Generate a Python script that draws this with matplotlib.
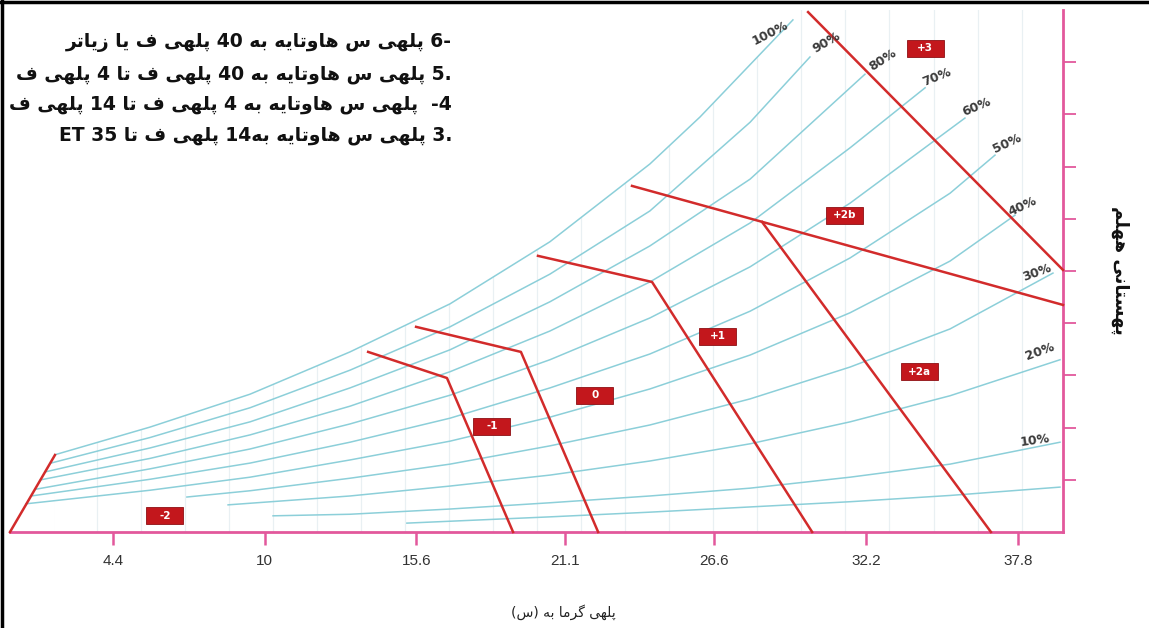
import re
import matplotlib.pyplot as plt
from matplotlib.patches import Rectangle, Polygon
from matplotlib.lines import Line2D
import numpy as np

plt.rcParams['font.family'] = ['DejaVu Sans']

# x axis: dry bulb temperature (C)
temp_ticks = [4.4, 10, 15.6, 21.1, 26.6, 32.2, 37.8]
temp_labels = ['4.4', '10', '15.6', '21.1', '26.6', '32.2', '37.8']

# relative humidity curves (temperature, vapour units)
rh100_t = [2.26, 5.77, 9.46, 13.15, 16.84, 20.53, 24.22, 26.07, 29.50]
rh100_y = [1.48, 2.01, 2.64, 3.45, 4.37, 5.56, 7.05, 7.95, 9.81]
rh90_t = [2.11, 5.77, 9.46, 13.15, 16.84, 20.53, 24.22, 27.92, 30.13]
rh90_y = [1.32, 1.81, 2.38, 3.10, 3.93, 4.94, 6.15, 7.85, 9.10]
rh80_t = [1.89, 5.77, 9.46, 13.15, 16.84, 20.53, 24.22, 27.92, 32.16]
rh80_y = [1.15, 1.61, 2.11, 2.76, 3.49, 4.41, 5.48, 6.76, 8.77]
rh70_t = [1.74, 5.77, 9.46, 13.15, 16.84, 20.53, 24.22, 27.92, 31.61, 34.38]
rh70_y = [1.00, 1.41, 1.86, 2.41, 3.07, 3.85, 4.79, 5.92, 7.36, 8.51]
rh60_t = [1.56, 5.77, 9.46, 13.15, 16.84, 20.53, 24.22, 27.92, 31.61, 35.85]
rh60_y = [0.82, 1.21, 1.59, 2.07, 2.62, 3.30, 4.10, 5.08, 6.30, 7.93]
rh50_t = [1.38, 5.77, 9.46, 13.15, 16.84, 20.53, 24.22, 27.92, 31.61, 35.30, 36.96]
rh50_y = [0.69, 1.01, 1.32, 1.72, 2.18, 2.76, 3.41, 4.23, 5.25, 6.49, 7.22]
rh40_t = [1.19, 5.77, 9.46, 13.15, 16.84, 20.53, 24.22, 27.92, 31.61, 35.30, 37.70]
rh40_y = [0.54, 0.80, 1.05, 1.38, 1.74, 2.20, 2.74, 3.39, 4.20, 5.19, 6.07]
rh30_t = [7.13, 9.46, 13.15, 16.84, 20.53, 24.22, 27.92, 31.61, 35.30, 39.10]
rh30_y = [0.67, 0.79, 1.03, 1.30, 1.65, 2.05, 2.55, 3.16, 3.89, 4.96]
rh20_t = [8.65, 13.15, 16.84, 20.53, 24.22, 27.92, 31.61, 35.30, 39.36]
rh20_y = [0.52, 0.69, 0.88, 1.09, 1.36, 1.69, 2.11, 2.61, 3.30]
rh10_t = [10.31, 13.15, 16.84, 20.53, 24.22, 27.92, 31.61, 35.30, 39.36]
rh10_y = [0.31, 0.34, 0.44, 0.56, 0.69, 0.84, 1.05, 1.30, 1.72]
rh5_t = [15.25, 20.53, 24.22, 27.92, 31.61, 35.30, 39.36]
rh5_y = [0.17, 0.29, 0.38, 0.48, 0.58, 0.70, 0.86]

pct_labels = ['100%', '90%', '80%', '70%', '60%', '50%', '40%', '30%', '20%', '10%']
pct_t = [28.65, 30.76, 32.83, 34.82, 36.30, 37.40, 37.99, 38.51, 38.62, 38.44]
pct_y = [9.56, 9.37, 9.04, 8.72, 8.14, 7.45, 6.23, 4.96, 3.45, 1.76]
pct_rot = [27, 30, 33, 22, 23, 25, 25, 20, 20, 8]

# comfort zone boundaries
zone_m2_t = [0.6, 2.26]
zone_m2_y = [0.0, 1.475]
zone_m1_t = [13.82, 16.73, 19.17]
zone_m1_y = [3.45, 2.95, 0.0]
zone_0_t = [15.59, 19.46, 22.31]
zone_0_y = [3.93, 3.45, 0.0]
zone_p1_t = [20.09, 24.30, 30.21]
zone_p1_y = [5.29, 4.79, 0.0]
zone_p2b_t = [23.56, 39.47]
zone_p2b_y = [6.63, 4.35]
zone_p2a_t = [28.36, 36.81]
zone_p2a_y = [5.94, 0.0]
zone_p3_t = [30.06, 39.47]
zone_p3_y = [9.96, 5.02]

zone_names = ['+3', '+2b', '+1', '+2a', '0', '-1', '-2']
zone_t = [34.38, 31.42, 26.73, 34.16, 22.19, 18.39, 6.32]
zone_y = [9.27, 6.07, 3.75, 3.07, 2.62, 2.03, 0.31]

notes = ['6- پلهی س هاوتایه به 40 پلهی ف یا زیاتر',
         '5. پلهی س هاوتایه به 40 پلهی ف تا 4 پلهی ف',
         '-4  پلهی س هاوتایه به 4 پلهی ف تا 14 پلهی ف',
         '3. پلهی س هاوتایه به14 پلهی ف تا 35 ET']
xlabel_txt = 'پلهی گرما به (س)'
ylabel_txt = 'پهستانی ههلم'

# --- minimal arabic shaping (isolated, final, initial, medial)
FORMS = {
    'ا': ('\uFE8D', '\uFE8E', None, None),
    'ب': ('\uFE8F', '\uFE90', '\uFE91', '\uFE92'),
    'پ': ('\uFB56', '\uFB57', '\uFB58', '\uFB59'),
    'ت': ('\uFE95', '\uFE96', '\uFE97', '\uFE98'),
    'ر': ('\uFEAD', '\uFEAE', None, None),
    'ز': ('\uFEAF', '\uFEB0', None, None),
    'س': ('\uFEB1', '\uFEB2', '\uFEB3', '\uFEB4'),
    'ف': ('\uFED1', '\uFED2', '\uFED3', '\uFED4'),
    'گ': ('\uFB92', '\uFB93', '\uFB94', '\uFB95'),
    'ل': ('\uFEDD', '\uFEDE', '\uFEDF', '\uFEE0'),
    'م': ('\uFEE1', '\uFEE2', '\uFEE3', '\uFEE4'),
    'ن': ('\uFEE5', '\uFEE6', '\uFEE7', '\uFEE8'),
    'و': ('\uFEED', '\uFEEE', None, None),
    'ه': ('\uFEE9', '\uFEEA', '\uFEEB', '\uFEEC'),
    'ی': ('\uFBFC', '\uFBFD', '\uFBFE', '\uFBFF'),
}


def shape(word):
    out = []
    n = len(word)
    for i, ch in enumerate(word):
        f = FORMS.get(ch)
        if f is None:
            out.append(ch)
            continue
        prev = i > 0 and word[i - 1] in FORMS and FORMS[word[i - 1]][2] is not None
        nxt = i < n - 1 and word[i + 1] in FORMS and f[2] is not None
        if prev and nxt:
            out.append(f[3])
        elif prev:
            out.append(f[1])
        elif nxt:
            out.append(f[2])
        else:
            out.append(f[0])
    return ''.join(reversed(out))


def rtl(line):
    vis = []
    for tok in reversed(line.split(' ')):
        runs = re.findall(r'[\u0600-\u06FF]+|[^\u0600-\u06FF]+', tok)
        if len(runs) > 1:
            parts = []
            for r in reversed(runs):
                if '\u0600' <= r[0] <= '\u06FF':
                    parts.append(shape(r))
                else:
                    parts.append(r.translate(str.maketrans('()', ')(')))
            vis.append(''.join(parts))
        elif runs and '\u0600' <= runs[0][0] <= '\u06FF':
            vis.append(shape(tok))
        else:
            vis.append(tok)
    return ' '.join(vis)


W, H = 1149, 628
fig = plt.figure(figsize=(W / 100, H / 100), dpi=100)
ax = fig.add_axes([10 / W, (H - 532) / H, (1063 - 10) / W, (532 - 10) / H])
ax.set_xlim(0.6, 39.47)
ax.set_ylim(0, 10)

pink = '#e2589c'
red = '#d22b2b'
cyan = '#8ccfd9'

# faint vertical grid under the saturation curve
clip = Polygon(list(zip(rh100_t, rh100_y)) + [(29.5, 10.5), (40, 10.5), (40, 0), (2.26, 0)],
               closed=True, transform=ax.transData)
for gx in np.arange(2.19, 39.5, 1.625):
    ln = ax.axvline(gx, color='#e9f0f3', lw=0.9, zorder=1)
    ln.set_clip_path(clip)

curves = [(rh100_t, rh100_y), (rh90_t, rh90_y), (rh80_t, rh80_y), (rh70_t, rh70_y),
          (rh60_t, rh60_y), (rh50_t, rh50_y), (rh40_t, rh40_y), (rh30_t, rh30_y),
          (rh20_t, rh20_y), (rh10_t, rh10_y), (rh5_t, rh5_y)]
for ct, cy in curves:
    ax.plot(ct, cy, color=cyan, lw=1.1, zorder=2)

for lab, t, y, r in zip(pct_labels, pct_t, pct_y, pct_rot):
    ax.text(t, y, lab, rotation=r, ha='center', va='center', fontsize=9,
            fontweight='bold', color='#3a3a3a', zorder=4)

zones = [(zone_m2_t, zone_m2_y), (zone_m1_t, zone_m1_y), (zone_0_t, zone_0_y),
         (zone_p1_t, zone_p1_y), (zone_p2b_t, zone_p2b_y), (zone_p2a_t, zone_p2a_y),
         (zone_p3_t, zone_p3_y)]
for zt, zy in zones:
    ax.plot(zt, zy, color=red, lw=1.8, zorder=3, clip_on=False)

bw, bh = 37 / 27.09, 17 / 52.2
for name, t, y in zip(zone_names, zone_t, zone_y):
    ax.add_patch(Rectangle((t - bw / 2, y - bh / 2), bw, bh, facecolor='#c3171c',
                           edgecolor='#8e1014', lw=0.6, zorder=5))
    ax.text(t, y, name, ha='center', va='center', fontsize=7.5, fontweight='bold',
            color='white', zorder=6)

for s in ['top', 'left']:
    ax.spines[s].set_visible(False)
for s in ['bottom', 'right']:
    ax.spines[s].set_color(pink)
    ax.spines[s].set_linewidth(2)

ax.set_xticks(temp_ticks)
ax.set_xticklabels(temp_labels, fontfamily='Liberation Sans', fontsize=11, color='#333333')
ax.tick_params(axis='x', length=9.5, width=1.8, color=pink, pad=6)
ax.yaxis.tick_right()
ax.set_yticks(range(1, 10))
ax.set_yticklabels([])
ax.tick_params(axis='y', length=9, width=1.3, color=pink)

for i, line in enumerate(notes):
    fig.text(452 / W, 1 - (43 + i * 31) / H, rtl(line), ha='right', va='center',
             fontsize=13.5, fontweight='bold', color='#111111')

fig.text(563 / W, 1 - 612 / H, rtl(xlabel_txt), ha='center', va='center',
         fontsize=10, color='#222222')
fig.text(1120 / W, 1 - 270 / H, rtl(ylabel_txt), ha='center', va='center',
         rotation=270, fontsize=13, fontweight='bold', color='#111111')

# black frame on top and left edges
fig.add_artist(Line2D([0, 1], [0.997, 0.997], transform=fig.transFigure, color='black', lw=2.5))
fig.add_artist(Line2D([0.0015, 0.0015], [0, 1], transform=fig.transFigure, color='black', lw=2.5))

fig.savefig('out.png', dpi=100, facecolor='white')
